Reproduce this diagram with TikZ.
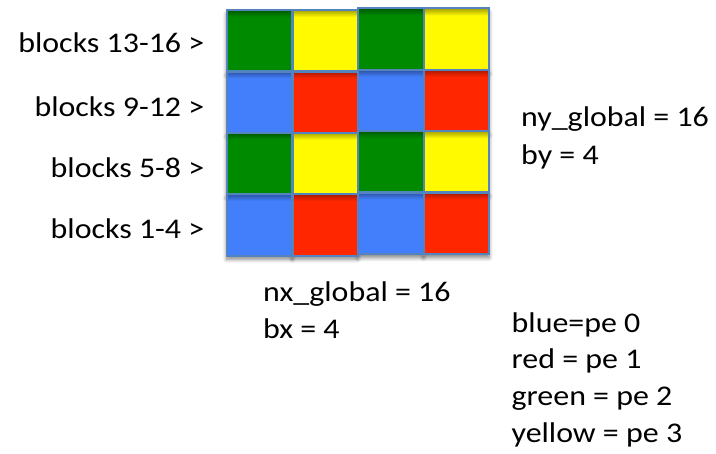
\documentclass[tikz,border=0pt]{standalone}
\usepackage{fontspec}
\setmainfont{Carlito}[FakeStretch=1.12]
\usetikzlibrary{shadows.blur}

% processor colours
\definecolor{cellc0}{RGB}{0,138,0}     % green  = pe 2
\definecolor{cellc1}{RGB}{255,250,0}   % yellow = pe 3
\definecolor{cellc2}{RGB}{67,126,251}  % blue   = pe 0
\definecolor{cellc3}{RGB}{255,38,0}    % red    = pe 1
\definecolor{cellborder}{RGB}{84,132,192}

\begin{document}
\begin{tikzpicture}[x=1pt,y=-1pt,
  cell/.style={inner sep=0pt, minimum width=65.5pt, minimum height=61.3pt,
    anchor=north west},
  cellshadow/.style={fill=white, blur shadow={shadow xshift=0pt,
    shadow yshift=-4pt, shadow blur steps=7, shadow blur radius=4pt,
    shadow opacity=50}},
  celledge/.style={draw=cellborder, line width=2pt},
  lbl/.style={inner sep=0pt, font=\fontsize{28.5}{34}\selectfont}]

\useasboundingbox (0,0) rectangle (716,454);

% soft shadows under every block, laid down first
\foreach \r in {0,...,3}{
  \foreach \c in {0,...,3}{
    \pgfmathsetmacro{\xx}{226.7+\c*65.6}
    \pgfmathsetmacro{\yy}{10+\r*61.3-(\c>1)*1.5}
    \path[cellshadow] (\xx,\yy) rectangle ++(65.5,61.3);
  }
}

% 4x4 decomposition grid, rows listed top to bottom
\foreach \r in {0,...,3}{
  \foreach \c in {0,...,3}{
    \pgfmathsetmacro{\xx}{226.7+\c*65.6}
    \pgfmathsetmacro{\yy}{10+\r*61.3-(\c>1)*1.5}
    \pgfmathtruncatemacro{\k}{mod(\r,2)*2+mod(\c,2)}
    \colorlet{cc}{cellc\k}
    \node[cell, fill=cc] (cell-\r-\c) at (\xx,\yy) {};
    \shade[top color=cc!65!black, bottom color=cc]
      (cell-\r-\c.north west) rectangle ([yshift=-7pt]cell-\r-\c.north east);
  }
}

% block outlines on top
\foreach \r in {0,...,3}{
  \foreach \c in {0,...,3}{
    \draw[celledge] (cell-\r-\c.north west) rectangle (cell-\r-\c.south east);
  }
}

% row labels
\node[lbl, anchor=base east] (rows4) at (204.5,52.3)  {blocks 13-16 >};
\node[lbl, anchor=base east] (rows3) at (204.5,116.7) {blocks 9-12 >};
\node[lbl, anchor=base east] (rows2) at (204.5,177.3) {blocks 5-8 >};
\node[lbl, anchor=base east] (rows1) at (204.5,239)   {blocks 1-4 >};

% global sizes
\node[lbl, anchor=base west] (nyg) at (521,126.7) {ny\_global = 16};
\node[lbl, anchor=base west] (by)  at (521,165)   {by = 4};
\node[lbl, anchor=base west] (nxg) at (263,301.7) {nx\_global = 16};
\node[lbl, anchor=base west] (bx)  at (263,338.3) {bx = 4};

% colour legend
\node[lbl, anchor=base west] (pe0) at (511.5,332.7) {blue=pe 0};
\node[lbl, anchor=base west] (pe1) at (511.5,369)   {red = pe 1};
\node[lbl, anchor=base west] (pe2) at (511.5,406)   {green = pe 2};
\node[lbl, anchor=base west] (pe3) at (511.5,442.7) {yellow = pe 3};
\end{tikzpicture}
\end{document}
